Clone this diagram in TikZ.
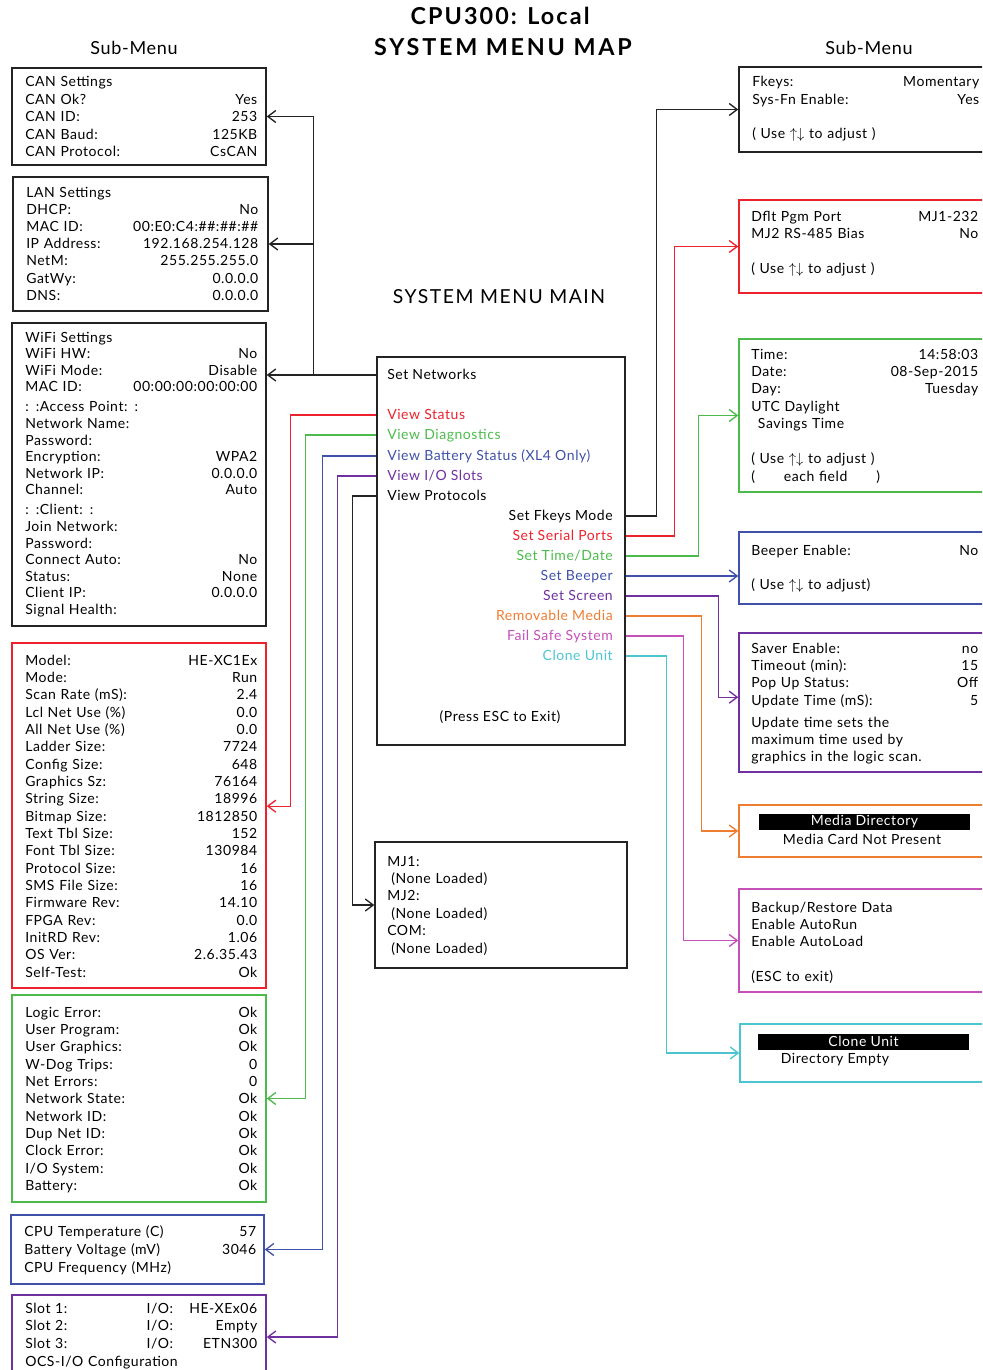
\documentclass[tikz,border=0pt]{standalone}
\usepackage{fontspec}
\setmainfont{Lato}[LetterSpace=4]
\usetikzlibrary{arrows.meta, fit}
\newcommand{\PX}{0.75pt}
\newcommand{\rowfont}[1]{\fontsize{10.5}{#1}\selectfont}
\newcommand{\updn}{$\uparrow\downarrow$}
\definecolor{cred}{RGB}{237,34,44}
\definecolor{cgreen}{RGB}{76,187,76}
\definecolor{cblue}{RGB}{63,81,168}
\definecolor{cpurple}{RGB}{112,48,160}
\definecolor{corange}{RGB}{237,125,49}
\definecolor{cmagenta}{RGB}{196,80,184}
\definecolor{ccyan}{RGB}{75,198,208}
\definecolor{cline}{RGB}{35,35,35}

\tikzset{
  box/.style={draw=cline, line width=1.1pt, inner sep=0pt},
  rows/.style={anchor=base west, align=left, inner sep=0pt, text width=#1*\PX},
  item/.style={inner sep=0pt, text height=8pt, text depth=1pt, font=\rowfont{12pt}},
  wire/.style={line width=1pt, draw=cline},
  link/.style={wire, -{Straight Barb[length=6pt,width=9pt]}},
  hdbar/.style={fill=black, text=white, inner sep=0pt, minimum width=211*\PX, minimum height=16*\PX, font=\rowfont{12pt}},
}

\begin{document}
\begin{tikzpicture}[x=0.75pt, y=-0.75pt]
  \useasboundingbox (0,0) rectangle (982,1370);
  \clip (0,0) rectangle (982,1370);

  % titles
  \node[anchor=base, font=\bfseries\fontsize{17.5}{17.5}\selectfont\addfontfeatures{LetterSpace=9}] (title1) at (500,25) {CPU300: Local};
  \node[anchor=base, font=\bfseries\fontsize{17.5}{17.5}\selectfont\addfontfeatures{LetterSpace=12}] (title2) at (503,56) {SYSTEM MENU MAP};
  \node[anchor=base, font=\fontsize{13.5}{13.5}\selectfont] (subl) at (134,55) {Sub-Menu};
  \node[anchor=base, font=\fontsize{13.5}{13.5}\selectfont] (subr) at (869,55) {Sub-Menu};
  \node[anchor=base, font=\fontsize{14.5}{14.5}\selectfont\addfontfeatures{LetterSpace=8}] (mainttl) at (499,303) {SYSTEM MENU MAIN};

  % main menu
  \node[box, line width=2pt, fit={(377,357) (625,745)}] (main) {};
  \node[item, anchor=west] (setnet) at (387,375) {Set Networks};
  \node[item, anchor=west, text=cred] (vstat) at (387,415) {View Status};
  \node[item, anchor=west, text=cgreen] (vdiag) at (387,435) {View Diagnostics};
  \node[item, anchor=west, text=cblue] (vbatt) at (387,456) {View Battery Status (XL4 Only)};
  \node[item, anchor=west, text=cpurple] (vio) at (387,476) {View I/O Slots};
  \node[item, anchor=west] (vproto) at (387,496) {View Protocols};
  \node[item, anchor=east] (sfkey) at (613,516) {Set Fkeys Mode};
  \node[item, anchor=east, text=cred] (sserial) at (613,536) {Set Serial Ports};
  \node[item, anchor=east, text=cgreen] (stime) at (613,556) {Set Time/Date};
  \node[item, anchor=east, text=cblue] (sbeep) at (613,576) {Set Beeper};
  \node[item, anchor=east, text=cpurple] (sscreen) at (613,596) {Set Screen};
  \node[item, anchor=east, text=corange] (smedia) at (613,616) {Removable Media};
  \node[item, anchor=east, text=cmagenta] (sfail) at (613,636) {Fail Safe System};
  \node[item, anchor=east, text=ccyan] (sclone) at (613,656) {Clone Unit};
  \node[item] (pressesc) at (500,717) {(Press ESC to Exit)};

  % left sub-menus
  \node[box, fit={(12,68) (266,165)}] (can) {};
  \node[rows=232, font=\rowfont{13.1pt}] (cantxt) at (25,87) {CAN Settings\\
    CAN Ok?\hfill Yes\\ CAN ID:\hfill 253\\ CAN Baud:\hfill 125KB\\ CAN Protocol:\hfill CsCAN};

  \node[box, fit={(13,177) (268,311)}] (lan) {};
  \node[rows=232, font=\rowfont{12.9pt}] (lantxt) at (26,197) {LAN Settings\\
    DHCP:\hfill No\\ MAC ID:\hfill 00:E0:C4:\#\#:\#\#:\#\#\\ IP Address:\hfill 192.168.254.128\\
    NetM:\hfill 255.255.255.0\\ GatWy:\hfill 0.0.0.0\\ DNS:\hfill 0.0.0.0};

  \node[box, fit={(12,323) (266,626)}] (wifi) {};
  \node[rows=232, font=\rowfont{12.45pt}] (wifitxt) at (25,342) {WiFi Settings\\
    WiFi HW:\hfill No\\ WiFi Mode:\hfill Disable\\ MAC ID:\hfill 00:00:00:00:00:00\\[2.6pt]
    : :Access Point: :\\ Network Name:\\ Password:\\ Encryption:\hfill WPA2\\
    Network IP:\hfill 0.0.0.0\\ Channel:\hfill Auto\\[2.6pt]
    : :Client: :\\ Join Network:\\ Password:\\ Connect Auto:\hfill No\\
    Status:\hfill None\\ Client IP:\hfill 0.0.0.0\\ Signal Health:};

  \node[box, draw=cred, fit={(12,643) (266,988)}] (stat) {};
  \node[rows=232, font=\rowfont{13pt}] (stattxt) at (25,665) {Model:\hfill HE-XC1Ex\\
    Mode:\hfill Run\\ Scan Rate (mS):\hfill 2.4\\ Lcl Net Use (\%)\hfill 0.0\\
    All Net Use (\%)\hfill 0.0\\ Ladder Size:\hfill 7724\\ Config Size:\hfill 648\\
    Graphics Sz:\hfill 76164\\ String Size:\hfill 18996\\ Bitmap Size:\hfill 1812850\\
    Text Tbl Size:\hfill 152\\ Font Tbl Size:\hfill 130984\\ Protocol Size:\hfill 16\\
    SMS File Size:\hfill 16\\ Firmware Rev:\hfill 14.10\\ FPGA Rev:\hfill 0.0\\
    InitRD Rev:\hfill 1.06\\ OS Ver:\hfill 2.6.35.43\\ Self-Test:\hfill Ok};

  \node[box, draw=cgreen, fit={(12,995) (266,1202)}] (diag) {};
  \node[rows=232, font=\rowfont{13pt}] (diagtxt) at (25,1017) {Logic Error:\hfill Ok\\
    User Program:\hfill Ok\\ User Graphics:\hfill Ok\\ W-Dog Trips:\hfill 0\\
    Net Errors:\hfill 0\\ Network State:\hfill Ok\\ Network ID:\hfill Ok\\
    Dup Net ID:\hfill Ok\\ Clock Error:\hfill Ok\\ I/O System:\hfill Ok\\ Battery:\hfill Ok};

  \node[box, draw=cblue, fit={(11,1215) (264,1284)}] (batt) {};
  \node[rows=232, font=\rowfont{13.5pt}] (batttxt) at (24,1236) {CPU Temperature (C)\hfill 57\\
    Battery Voltage (mV)\hfill 3046\\ CPU Frequency (MHz)};

  \node[box, draw=cpurple, fit={(12,1295) (266,1379)}] (ioslot) {};
  \node[rows=232, font=\rowfont{13.3pt}] (iotxt) at (25,1313) {\makebox[91pt][l]{Slot 1:}I/O:\hfill HE-XEx06\\
    \makebox[91pt][l]{Slot 2:}I/O:\hfill Empty\\ \makebox[91pt][l]{Slot 3:}I/O:\hfill ETN300\\
    OCS-I/O Configuration};

  \node[box, line width=1pt, fit={(375,842) (627,968)}] (proto) {};
  \node[rows=220, font=\rowfont{13.05pt}] (prototxt) at (387,866) {MJ1:\\
    \hspace*{3pt}(None Loaded)\\ MJ2:\\ \hspace*{3pt}(None Loaded)\\ COM:\\ \hspace*{3pt}(None Loaded)};

  % right sub-menus
  \node[box, fit={(739,67) (995,152)}] (fkbox) {};
  \node[rows=227, font=\rowfont{13.1pt}] (fktxt) at (752,87) {Fkeys:\hfill Momentary\\
    Sys-Fn Enable:\hfill Yes\\[12.4pt] ( Use \updn{} to adjust )};

  \node[box, draw=cred, fit={(739,200) (995,293)}] (serial) {};
  \node[rows=227, font=\rowfont{12.75pt}] (serialtxt) at (751,221) {Dflt Pgm Port\hfill MJ1-232\\
    MJ2 RS-485 Bias\hfill No\\[13.5pt] ( Use \updn{} to adjust )};

  \node[box, draw=cgreen, fit={(739,339) (995,492)}] (timebox) {};
  \node[rows=227, font=\rowfont{13.1pt}] (timetxt) at (751,359) {Time:\hfill 14:58:03\\
    Date:\hfill 08-Sep-2015\\ Day:\hfill Tuesday\\ UTC Daylight\\ \hspace*{5pt}Savings Time\\[13.1pt]
    ( Use \updn{} to adjust )\\ (\makebox[91pt]{each field})};

  \node[box, draw=cblue, fit={(739,532) (995,604)}] (beep) {};
  \node[rows=227, font=\rowfont{13pt}] (beeptxt) at (751,555) {Beeper Enable:\hfill No\\[12.5pt]
    ( Use \updn{} to adjust)};

  \node[box, draw=cpurple, fit={(739,633) (995,772)}] (screen) {};
  \node[rows=227, font=\rowfont{13pt}] (screentxt) at (751,653) {Saver Enable:\hfill no\\
    Timeout (min):\hfill 15\\ Pop Up Status:\hfill Off\\ Update Time (mS):\hfill 5\\[3.5pt]
    Update time sets the\\ maximum time used by\\ graphics in the logic scan.};

  \node[box, draw=corange, fit={(739,805) (995,857)}] (media) {};
  \node[hdbar] (mediahd) at (864.5,822) {Media Directory};
  \node[item] (mediatxt) at (862,840) {Media Card Not Present};

  \node[box, draw=cmagenta, fit={(739,889) (995,992)}] (failsafe) {};
  \node[rows=227, font=\rowfont{12.75pt}] (failtxt) at (751,912) {Backup/Restore Data\\
    Enable AutoRun\\ Enable AutoLoad\\[13.5pt] (ESC to exit)};

  \node[box, draw=ccyan, fit={(740,1024) (995,1082)}] (clone) {};
  \node[hdbar] (clonehd) at (863.5,1041.5) {Clone Unit};
  \node[item] (clonetxt) at (835,1059) {Directory Empty};

  % connectors to the left
  \draw[link] (setnet.west -| main.west) -- (setnet.west -| wifi.east);
  \draw[link] (setnet.west -| main.west) ++(-62,0) coordinate (netj) |- (lan.east);
  \draw[link] (netj) |- (can.east);
  \draw[link, draw=cred] (vstat.west -| main.west) -- ++(-85,0) |- ([yshift=7pt]stat.east);
  \draw[link, draw=cgreen] (vdiag.west -| main.west) -- ++(-70,0) |- (diag.east);
  \draw[link, draw=cblue] (vbatt.west -| main.west) -- ++(-53,0) |- (batt.east);
  \draw[link, draw=cpurple] (vio.west -| main.west) -- ++(-38,0) |- (ioslot.east);
  \draw[link] (vproto.west -| main.west) -- ++(-23,0) |- (proto.west);

  % connectors to the right
  \draw[link] (sfkey.east -| main.east) -- ++(30,0) |- (fkbox.west);
  \draw[link, draw=cred] (sserial.east -| main.east) -- ++(48,0) |- (serial.west);
  \draw[link, draw=cgreen] (stime.east -| main.east) -- ++(72,0) |- (timebox.west);
  \draw[link, draw=cblue] (sbeep.east -| main.east) -- (sbeep.east -| beep.west);
  \draw[link, draw=cpurple] (sscreen.east -| main.east) -- ++(92,0) |- ([yshift=4pt]screen.west);
  \draw[link, draw=corange] (smedia.east -| main.east) -- ++(75,0) |- (media.west);
  \draw[link, draw=cmagenta] (sfail.east -| main.east) -- ++(57,0) |- (failsafe.west);
  \draw[link, draw=ccyan] (sclone.east -| main.east) -- ++(40,0) |- (clone.west);
\end{tikzpicture}
\end{document}
